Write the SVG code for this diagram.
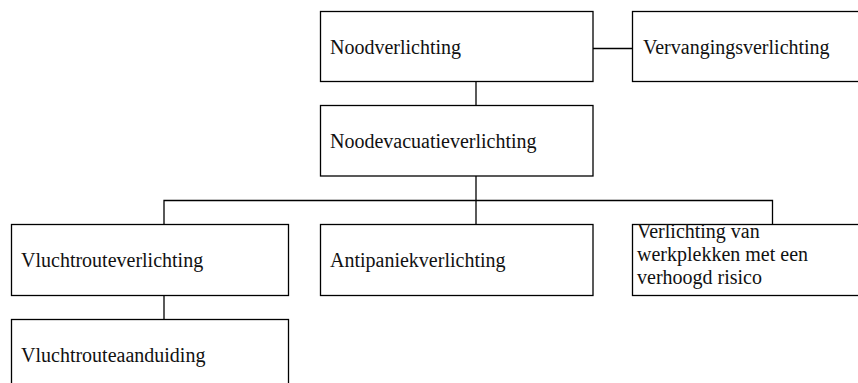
<svg xmlns="http://www.w3.org/2000/svg" width="858" height="383" viewBox="0 0 858 383">
<style>
rect{fill:#fff;stroke:#000;stroke-width:1.3}
text{font-family:"Liberation Serif","Times New Roman",serif;font-size:20px;fill:#111}
#connectors path{fill:none;stroke:#000;stroke-width:1.3}
</style>
<rect x="0" y="0" width="858" height="383" style="stroke:none"/>
<g id="connectors">
<path d="M593,48.5H632"/>
<path d="M476,81V105.5"/>
<path d="M476,176V200.5"/>
<path d="M164,224V200.5H772.5V224"/>
<path d="M476,200.5V224"/>
<path d="M164,295.5V319.5"/>
</g>
<g id="n1"><rect x="320.5" y="11.5" width="272.5" height="70"/><text x="330" y="54">Noodverlichting</text></g>
<g id="n2"><rect x="632.5" y="11.5" width="230" height="70"/><text x="643" y="54">Vervangingsverlichting</text></g>
<g id="n3"><rect x="320.5" y="105.5" width="272.5" height="70.5"/><text x="330" y="148">Noodevacuatieverlichting</text></g>
<g id="n4"><rect x="11.5" y="224.5" width="277" height="71"/><text x="21" y="267">Vluchtrouteverlichting</text></g>
<g id="n5"><rect x="320.5" y="224.5" width="272.5" height="71"/><text x="330" y="267">Antipaniekverlichting</text></g>
<g id="n6"><rect x="632.5" y="224.5" width="230" height="71"/><text x="637" y="238">Verlichting van</text><text x="637" y="261">werkplekken met een</text><text x="637" y="284">verhoogd risico</text></g>
<g id="n7"><rect x="11.5" y="319.5" width="277" height="80"/><text x="21" y="362">Vluchtrouteaanduiding</text></g>
</svg>
